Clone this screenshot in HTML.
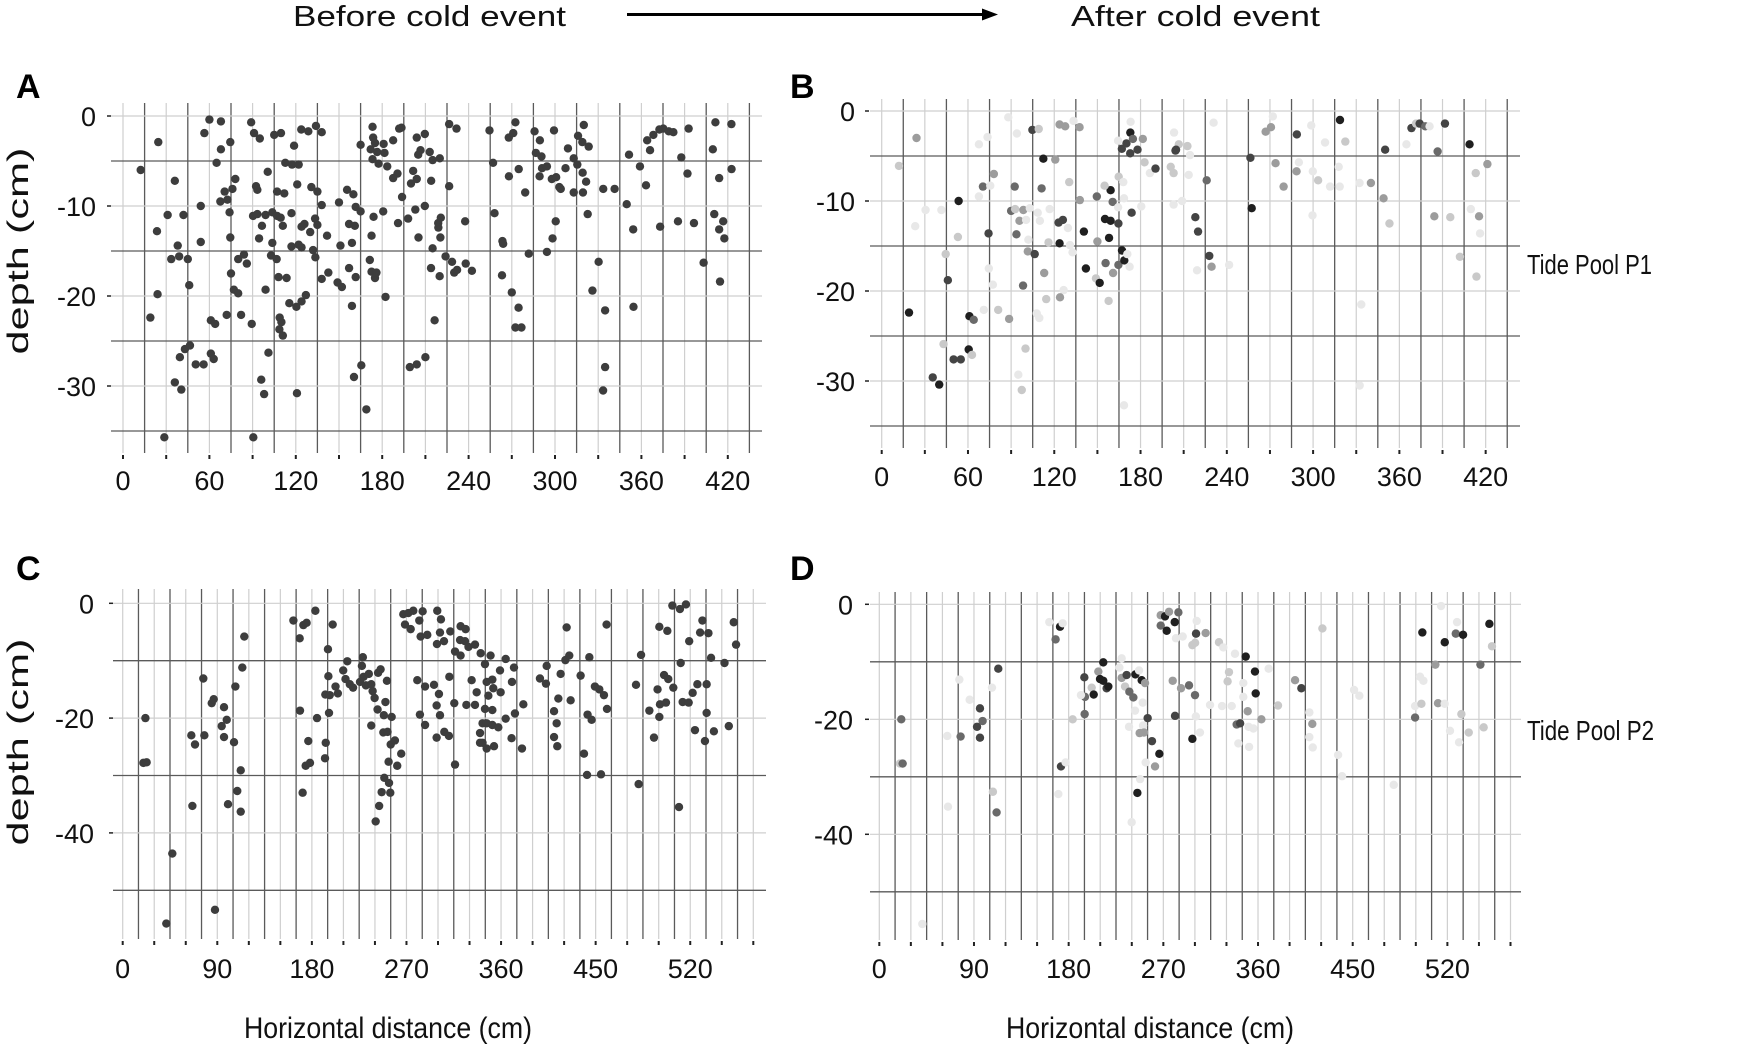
<!DOCTYPE html>
<html>
<head>
<meta charset="utf-8">
<style>
html,body{margin:0;padding:0;background:#fff;}
svg{display:block;font-family:"Liberation Sans",sans-serif;}
</style>
</head>
<body>
<svg id="fig" width="1750" height="1053" viewBox="0 0 1750 1053" xmlns="http://www.w3.org/2000/svg">
<rect width="1750" height="1053" fill="#fff"/>
<text x="293" y="26" font-size="29" textLength="273" lengthAdjust="spacingAndGlyphs" fill="#111">Before cold event</text>
<text x="1071" y="26" font-size="29" textLength="249" lengthAdjust="spacingAndGlyphs" fill="#111">After cold event</text>
<g>
<line x1="627" y1="14.5" x2="984" y2="14.5" stroke="#000" stroke-width="3"/>
<polygon points="982,8.5 998,14.5 982,20.5" fill="#000"/>
</g>
<text x="1527" y="274" font-size="28" textLength="125" lengthAdjust="spacingAndGlyphs" fill="#111">Tide Pool P1</text>
<text x="1527" y="740" font-size="28" textLength="127" lengthAdjust="spacingAndGlyphs" fill="#111">Tide Pool P2</text>
</svg>
<script>
// ---- Panel A data (before, pool P1) ----
const xA = [12.3,24.5,36,23.6,31,42,54,54,33.5,38,39,45,46,24,19,36,40.5,39.5,43,46.5,50.5,56,61,63,28.7,56.5,60,68,65,68,74.5,67.6,70.6,76,72.5,74,78,74.5,75,77,80,80,84,86,72,82,61,64,89.4,101,96,98,90.5,89,91,95,100.5,92.4,93.3,90.3,93.3,96.5,94.5,99,103.7,107,109.5,111,103.7,102.8,106.7,99,108,113.6,107,112,117,105,109.7,118.8,112.7,117.4,122,121,123.8,128.7,134,138,117,122,124,124,126,130,132,133.6,135,133.4,135,138,141.7,130.8,138,142.6,115.5,120.4,124,127,108.8,110,108.6,111,120.8,150,151,149,152,155.6,160,157,161,161.6,165,159,157,159,161.6,160.4,165.5,169,165,
173.3,173.7,175,181,172,176.5,181.6,173.3,177.5,183.5,187.6,191.8,193.4,204,209.6,206.6,205,213,215,220,226.5,231.6,201.5,204,200,190.6,187.6,193.8,214,226.5,174,180.7,191,198,203,209.6,172.6,205.2,218.9,220.7,219,220.4,237.6,215,213.9,219.9,224,228.5,230,232,238,242.3,171.4,172.6,176,175,182.3,216.4,199.2,204,210,254.5,257,267.9,271,272.5,274.8,268,279.3,258,263.5,264,281.8,263.2,270,274.7,272.5,276.7,285.8,289.5,299.3,286.7,290.6,291,294.4,289.3,297.8,300.8,303,304,309,307.3,313,316,320,319,323.4,315.5,319.2,321.6,313,319.4,322.7,300.5,298.3,294.4,330.3,326,334.8,334.8,333.4,333.5,341.4,349.8,351.4,359,363.2,354.3,354.5,364,366,368.3,372.5,375.2,379,382.2,392.8,387.7,392,373,385.4,396.5,403.2,409.6,411.4,414,422.5,422.6,410.6,416.8,414,417.6,414.6];
const dA = [-6.0,-2.9,-7.2,-12.8,-11,-11,-10,-14,-15.9,-14.4,-15.6,-15.9,-18.8,-19.8,-22.4,-29.6,-30.4,-26.8,-25.9,-25.5,-27.6,-27.6,-26.4,-27,-35.7,-1.9,-0.4,-0.6,-5.2,-3.7,-2.9,-9.5,-8.4,-8.1,-9.3,-10.7,-7,-13.5,-17.5,-19.3,-19.7,-15.9,-15.4,-16.4,-22.1,-22.1,-22.7,-23.1,-23.1,-26.3,-29.3,-30.9,-35.7,-0.7,-1.9,-2.5,-6.2,-7.8,-8.2,-11.1,-10.9,-12.2,-13.6,-11,-10.7,-11.1,-11.3,-12.2,-14.1,-15.5,-15.9,-19.3,-17.9,-18,-8.4,-8.6,-10.8,-2.1,-1.9,-3.3,-5.2,-5.4,-5.4,-7.6,-1.5,-1.7,-1.1,-1.8,-14.5,-14.3,-14.6,-12.3,-12,-12.9,-14.9,-15.7,-12.1,-11.4,-8.4,-9.9,-13.3,-7.9,-18.1,-17.4,-20.8,-21.2,-20.6,-19.9,-22.4,-22.9,-23.7,-24.4,-30.8,-9.6,-14.4,-18.5,-19,-8.2,-8.7,-12,-12.2,-10.1,-10.6,-14.1,-16.9,-21.1,-17.9,-29,-27.7,-32.6,-3.2,
-1.2,-2.4,-3,-3.1,-3.7,-4,-4.1,-4.8,-5.3,-5.6,-2.7,-1.4,-1.3,-2.4,-2,-3.8,-4.3,-4,-4.9,-4.7,-0.9,-1.4,-6.1,-7,-7.5,-6.4,-6.9,-9,-7.2,-7.8,-11.2,-10.6,-11.9,-11.4,-10.4,-10,-13.3,-13.5,-11.9,-11.3,-12.4,-13.5,-11.7,-14.7,-16.9,-17.8,-15.6,-16.2,-17.4,-17.1,-16.4,-17.2,-16,-17.3,-17.4,-18,-20.1,-22.7,-27.9,-27.6,-26.8,-1.6,-5.2,-2.4,-1.9,-0.7,-5.9,-6.7,-8.5,-10.8,-13.9,-14.2,-15.3,-17.7,-19.6,-21.3,-23.5,-23.5,-1.7,-2.7,-1.6,-4.1,-4.5,-5.8,-5.6,-6.7,-7,-6.8,-7.9,-8.1,-3.6,-5.8,-4.7,-2.2,-1,-2.9,-3.4,-5.4,-6.3,-7.3,-8.5,-8.5,-10.9,-11.7,-13.6,-15.1,-16.2,-19.4,-21.6,-27.9,-30.5,-8.1,-8.1,-9.8,-4.3,-5.6,-7.7,-12.6,-21.2,-2.7,-3.8,-2.1,-1.5,-1.4,-1.7,-1.8,-1.4,-4.6,-6.4,-12.3,-11.7,-11.9,-16.3,-3.7,-0.7,-6.9,-0.9,-5.9,-10.9,-11.7,-12.6,-13.6,-18.4];

// ---- Panel B data (after, pool P1) ----
const xB = [12,24.2,23.3,30.5,41.5,53.5,53,44.5,46,19,43,35.5,40,50,55,60.5,62.8,61,64,71,81,88.6,100,95,97.4,67.6,73.6,70.4,75.5,78,67.6,74.3,74.5,77.3,88,94,90,92.8,95.8,93.7,92.5,98.5,100.4,103,102,101.6,106.4,98.3,104.8,109.2,112.4,111.2,108.5,110,116.8,116,113,114.4,107.8,109.6,123.7,127.6,133.4,137.6,120.7,130.4,137.8,123,126,129.5,123.7,130.9,132.7,126.5,124,140.6,142,149.6,150,149,151.6,155.7,157.8,155.3,159.2,158.1,159.2,160.6,155,160.9,164.6,164.6,164.4,164.8,164.4,167,170.2,172.8,172.9,174.7,173.1,177.9,181.6,182.8,186.5,190.4,167.1,168.7,170.8,172.4,173.8,168,168.5,180.5,168.5,201,203,203.3,204.3,203,
206.6,204.7,212.6,214.4,213.5,208.9,230.8,218.1,220,226,227.8,229.4,241.6,219.3,256.4,257.3,267,270.7,272,273.9,279.5,288.7,290.1,288.5,298.7,299.8,303.5,308.3,311.8,299.6,318.7,322.4,317.8,318.5,332.3,340.2,333.5,332.4,350.1,349,353.1,364.9,368.4,371.6,374.1,378,381,391.7,386.6,384.3,395.4,402.1,408.8,413.1,421.2,409.7,415.4,416.1,413.6];
const dB = [-6.1,-3,-12.8,-11,-11,-10,-14,-15.9,-18.8,-22.4,-25.9,-29.6,-30.4,-27.6,-27.6,-26.5,-27.1,-22.8,-23.2,-22.1,-22.1,-23.1,-26.4,-29.3,-31,-3.7,-2.9,-8.4,-8.3,-7,-9.5,-13.6,-17.5,-19.3,-0.7,-2.5,-11.1,-10.9,-12.2,-13.7,-8.4,-11,-12.1,-10.8,-14.3,-15.6,-15.9,-19.4,-2.1,-2,-5.3,-8.6,-11.3,-12.2,-10.9,-14.6,-18,-20.9,-22.5,-23,-1.5,-1.7,-1.1,-1.8,-5.4,-7.9,-9.9,-12.4,-12.1,-13,-14.7,-14.9,-15.7,-19.9,-20.7,-13.4,-17.5,-9.5,-14.5,-18.6,-19.1,-16.9,-21.1,-12,-12.2,-14.1,-8.8,-10.1,-8.3,-18,-17.1,-12.5,-10.7,-7.3,-3.3,-4.2,-3.6,-4.7,-2.4,-3.1,-1.2,-4.3,-3.1,-5.7,-6.9,-6.4,-15.5,-16.6,-15.9,-17.3,-11.3,-7.9,-9.7,-10.6,-32.7,-6.2,-6.9,-2.4,-4.4,-10.4,
-3.7,-4.3,-3.9,-4.9,-7.1,-10,-1.3,-11.8,-13.4,-7.7,-16.1,-17.3,-17.1,-17.7,-5.2,-10.8,-2.3,-1.8,-0.6,-5.8,-8.4,-2.6,-5.7,-6.7,-1.6,-6.7,-7.7,-3.5,-8.4,-11.6,-1,-3.4,-6.2,-8.4,-8,-8,-21.5,-30.5,-4.3,-9.7,-12.5,-3.7,-1.9,-1.4,-1.4,-1.7,-1.7,-1.4,-4.5,-11.7,-11.8,-16.2,-3.7,-6.9,-5.9,-10.9,-11.7,-13.6,-18.4];
const shadeB = [2,3,1,1,1,6,2,2,5,6,2,5,6,5,5,6,2,6,4,1,2,3,2,1,2,1,1,4,1,3,1,5,1,1,1,1,4,2,3,4,4,3,1,1,1,3,5,4,5,2,6,4,1,1,1,2,3,2,1,1,3,3,1,3,3,2,3,5,5,1,6,1,1,1,3,6,6,4,3,2,6,4,2,6,6,6,6,4,2,3,4,5,1,2,1,5,5,5,6,4,1,5,3,2,1,5,6,6,1,1,5,1,1,1,1,2,2,1,5,1,
2,5,2,1,1,1,1,5,5,4,5,3,1,1,5,6,3,3,1,3,3,5,1,3,1,1,2,1,1,1,6,2,1,1,1,3,1,1,5,3,2,1,5,2,5,4,1,5,4,3,2,2,6,2,3,1,3,1,2];

// ---- Panel C data (before, pool P2) ----
const xC = [21.6,19.7,22.8,47.2,41.5,87.8,65.3,68.8,66.3,77.7,76.7,84.7,86.6,96.4,99,94.2,96.4,100.2,105.9,107.2,113.8,115.7,112.3,109,112.3,162.4,168.4,171.9,175,183.3,199.8,168.7,171.2,174.1,178.2,176.6,184.9,195.3,195.7,192.8,197,196.3,193.2,192.5,202.5,204.7,209.8,213.7,212,216.1,219.2,225.8,228.5,227.6,229.2,234.2,231.4,236.5,237.8,239.7,243,245.4,251.4,250,242.5,248.5,255.9,236.5,248,252,255,259,253,265,261.2,248.9,253.4,246.4,254.6,244,240.7,267,268.6,274,271.8,276.5,285.4,282.2,299.3,302.8,301.9,299,305.7,283.5,289.8,311.7,321.5,326.3,316.2,321.5,321,325.7,329,335.2,280.3,287.7,296.2,310.8,300.9,298.7,301.9,282.8,287.7,298.7,306,310.4,316.2,315.5,327,335.2,332,336.8,340,340,
340.6,344.7,350,346.3,351.7,352.6,347.9,359.6,359,364.4,372.3,370.4,381.2,373.2,364.4,344.7,351.7,342.4,346.3,351.7,357.4,342.4,346.3,353.3,370,379.9,397,403.4,402.7,416.7,414.5,410.4,412.9,410.4,413.5,422.4,421.2,424.9,426.2,435.7,444,449.3,453.5,457.9,460.8,442.3,446.2,438.9,441.8,455.1,460.4,488.4,493.2,501.1,505.5,490.9,508.9,511.2,516.9,510.6,515.1,519.1,523.9,510.6,518.2,523,530.2,535.9,539,530.9,532.8,538.5,542.3,546.8,555.6,544.5,554,555.6,562.5,549.4,551.6,557.3,559.8,572.6,576.7,581.4,583.6,529.3];
const dC = [-20,-27.8,-27.7,-43.6,-55.8,-53.4,-23,-24.6,-35.3,-23,-13.1,-17.4,-16.7,-18.1,-20.3,-21.4,-23.3,-35,-24.2,-14.5,-11.2,-5.8,-29.1,-32.7,-36.3,-3,-6.1,-3.8,-3.4,-1.3,-3.7,-18.7,-33,-28.3,-27.8,-24,-20,-8,-12.7,-15.9,-16,-19.1,-24.3,-27,-14.5,-15.7,-11.7,-10.1,-13.2,-14.1,-14.7,-13.7,-9.4,-10.9,-12.8,-12.3,-14.3,-14.1,-15.3,-16.5,-12.1,-11.5,-13.5,-17.2,-18.5,-19.5,-19.8,-21.3,-22.5,-22.4,-24.6,-23.9,-27.6,-26.2,-28.3,-30.4,-31.3,-32.9,-33,-35.3,-38,-1.9,-3.7,-4.5,-1.7,-1.3,-1.4,-3,-1.3,-2.8,-5.1,-7.1,-6.6,-5.8,-5.5,-4.9,-4,-4.5,-8.4,-9.1,-6.4,-6.6,-7.6,-7.2,-13.4,-14.5,-14.2,-12.8,-15.8,-17.8,-19.5,-19.4,-21.2,-23.4,-22.4,-23.1,-28.1,-17.4,-17.7,-17.7,-13.4,-15.5,-22.6,-24.3,
-8.7,-10.6,-9.1,-13.7,-13.3,-14.8,-16.1,-15.5,-11.7,-9.7,-11.2,-13.7,-17.6,-19.2,-20.1,-18.4,-18.6,-20.9,-20.9,-21.2,-21.6,-24.3,-25.3,-24.9,-23.5,-25.3,-13.1,-10.9,-14,-12.3,-16.6,-18.8,-20.9,-23.3,-24.9,-4.2,-9.9,-9.1,-16.9,-12.6,-9.4,-14.5,-15,-16,-18.4,-19.4,-20.3,-26.2,-29.9,-29.8,-3.7,-14.2,-9,-18.7,-23.4,-31.5,-15,-17.6,-17.3,-19.8,-12.5,-13.2,-14.7,-4.1,-4.8,-0.4,-1,-0.2,-6.6,-10.4,-17.2,-17.3,-15.6,-14.1,-14.1,-22.1,-24,-19.1,-22.3,-5.1,-3,-5.2,-9.5,-10.4,-21.4,-3.3,-7.2,-35.5];

// ---- Panel D data (after, pool P2) ----
const xD = [20.9,19.6,22.2,40.9,64.6,77.3,65.3,76.1,85.9,95.7,98.2,92.9,95.7,107.1,113.1,108,111.5,161.6,167.6,171.8,174.3,172.7,177.1,170.2,183.8,194.9,195.5,195.2,191.7,201.9,203.8,208.2,212.9,209.8,212.9,216.1,217.7,230.4,228.2,230.4,233.6,235.1,237.7,241.5,243.4,246.9,249.4,252.6,243.1,250.4,255.1,237.4,250.7,247.5,251.6,259.2,266.2,253.2,262.1,247.9,245.3,239.9,267.5,271.6,275.4,284.3,280.8,267.5,273.2,282,288.4,301.7,301.1,297.6,300.2,310.2,322.9,327,338.1,332.4,331.1,278.9,286.8,294.4,300.1,314.4,325.8,335,281.1,300.9,304.8,297.6,339.7,341.3,
348.3,357.1,357.8,346,346,350.2,363.2,343,351,355.6,351.5,370.1,379,395.2,401.2,408.8,411.6,408.8,412,421.2,451.3,456.3,436.1,439.9,489,509.3,509.3,515.3,514,517.2,516.2,531.1,537.4,528.6,534,537.5,548,549.2,554.9,542.5,553.3,551.1,560.3,571.4,574.5,579.9,582.4];
const dD = [-20,-27.7,-27.7,-55.6,-22.9,-23,-35.2,-13.1,-16.6,-18.1,-20.3,-21.3,-23.2,-14.5,-11.2,-32.6,-36.2,-3.1,-6.1,-3.9,-3.3,-28.2,-27.5,-33,-20,-12.7,-16.1,-19.1,-15.8,-14.5,-15.7,-11.7,-10.1,-13,-13.3,-14.6,-14.3,-9.4,-11,-12.8,-14.3,-12.3,-15.2,-16.2,-12.2,-11.5,-13.2,-13.7,-18.5,-17.1,-19.8,-21.3,-21.1,-22.4,-22.3,-23.8,-26,-27.5,-28.2,-30.4,-32.8,-37.9,-1.9,-2.1,-1.3,-1.4,-3.1,-3.7,-4.6,-5.9,-5.6,-2.9,-5.1,-7.1,-6.7,-5,-6.6,-7.5,-8.6,-11.8,-13.4,-13.3,-14.6,-14.1,-15.8,-17.5,-17.7,-17.7,-19.4,-19.5,-22.3,-23.4,-20.9,-24.2,
-9.1,-11.7,-15.5,-13.7,-16.1,-18.6,-20,-20.7,-21.3,-21.6,-24.8,-11.2,-17.6,-13.2,-14.6,-18.8,-20.8,-23.1,-24.9,-4.2,-14.9,-15.9,-26.2,-29.9,-31.4,-19.7,-17.7,-17.3,-12.6,-13.3,-4.9,-17.2,-17.3,-10.5,-0.3,-6.6,-5.1,-3.1,-5.3,-22,-19.1,-24,-22.3,-10.5,-21.4,-3.4,-7.3];
const shadeD = [4,2,4,1,1,4,1,1,1,5,4,5,5,1,5,2,4,1,4,6,1,5,1,1,2,5,4,4,1,2,6,3,6,6,6,5,6,1,1,3,2,5,4,4,6,1,6,3,1,1,5,1,1,3,3,5,6,1,3,1,6,1,3,6,3,4,6,4,6,1,1,1,5,2,2,3,2,1,1,2,2,3,3,4,4,1,1,1,5,1,1,6,4,1,
6,6,6,1,1,3,3,5,1,1,1,1,2,3,5,1,3,1,1,2,1,1,1,1,1,4,1,2,1,1,6,3,1,3,1,6,4,1,6,1,2,1,2,4,2,6,2];

// axis tick values
const xTicksP1 = [0,60,120,180,240,300,360,420];
const yTicksP1 = [0,-10,-20,-30];
const xTickValsP2 = [0,90,180,270,360,450,540];
const xTickTextP2 = ["0","90","180","270","360","450","520"];
const yTicksP2 = [0,-20,-40];

const shadeColors = ["#3d3d3d","#e8e8e8","#c9c9c9","#9c9c9c","#6a6a6a","#444444","#1f1f1f"];

const NS = "http://www.w3.org/2000/svg";
const svg = document.getElementById("fig");
function mk(tag, attrs, parent){
  const e = document.createElementNS(NS, tag);
  for (const k in attrs) e.setAttribute(k, attrs[k]);
  (parent||svg).appendChild(e);
  return e;
}

function panel(cfg){
  const g = mk("g", {});
  
  
  const X = v => cfg.x0 + v*cfg.sx;
  const Y = v => cfg.y0 - v*cfg.sy;
  for (let v = 0; v <= cfg.xMax; v += 15){
    const dark = (v % 30) !== 0;
    const l = mk("line", {x1:X(v), x2:X(v), y1:cfg.vTop, y2:cfg.vBot, stroke: dark?"#5a5a5a":"#cfcfcf", "stroke-width": dark?1.3:1.2}, g);
    
    
  }
  for (let v = 0; v >= cfg.yMin; v -= cfg.hStep){
    const dark = (Math.round(Math.abs(v)/cfg.hStep) % 2) === 1;
    const l = mk("line", {x1:cfg.hL, x2:cfg.hR, y1:Y(v), y2:Y(v), stroke: dark?"#5a5a5a":"#cfcfcf", "stroke-width": dark?1.3:1.2}, g);
    
    
  }
  for (let v = 0; v <= cfg.xTickMax; v += 30){
    const t = mk("line", {x1:X(v), x2:X(v), y1:cfg.vBot+2, y2:cfg.vBot+6, stroke:"#222", "stroke-width":2}, g);
    
    
  }
  cfg.xLabVals.forEach((v,i)=>{
    const t = mk("text", {x:X(v), y:cfg.xLabY, "font-size":27, "text-anchor":"middle", fill:"#111"}, g);
    t.textContent = cfg.xLabText[i];
    
    
  });
  cfg.yLabVals.forEach(v=>{
    const tk = mk("line", {x1:cfg.yTickX, x2:cfg.yTickX+4, y1:Y(v), y2:Y(v), stroke:"#222", "stroke-width":1.5}, g);
    
    
    const t = mk("text", {x:cfg.yLabX, y:Y(v)+10, "font-size":27, "text-anchor":"end", fill:"#111"}, g);
    t.textContent = String(v);
    
    
  });
  const n = Math.min(cfg.xs.length, cfg.ds.length);
  for (let i = 0; i < n; i++){
    const s = cfg.shade ? (cfg.shade[i] || 1) : 0;
    const c = mk("circle", {cx:X(cfg.xs[i]), cy:Y(cfg.ds[i]), r:4.2, fill: shadeColors[s]}, g);
    
    
  }
  const L = mk("text", {x:cfg.letterX, y:cfg.letterY, "font-size":34, "font-weight":"bold", fill:"#000"}, g);
  L.textContent = cfg.id.toUpperCase();
  
  
}

panel({id:"a", x0:123, sx:1.44, y0:116, sy:9.0, vTop:103, vBot:453, hL:111, hR:762, xMax:435, yMin:-35, hStep:5, xTickMax:420,
  xLabVals:xTicksP1, xLabText:xTicksP1.map(String), xLabY:490, yLabVals:yTicksP1, yLabX:96, yTickX:107,
  xs:xA, ds:dA, letterX:16, letterY:98});
panel({id:"b", x0:881.7, sx:1.438, y0:111, sy:9.0, vTop:99, vBot:448, hL:870, hR:1520, xMax:435, yMin:-35, hStep:5, xTickMax:420,
  xLabVals:xTicksP1, xLabText:xTicksP1.map(String), xLabY:486, yLabVals:yTicksP1, yLabX:855, yTickX:865,
  xs:xB, ds:dB, shade:shadeB, letterX:790, letterY:98});
panel({id:"c", x0:122.7, sx:1.051, y0:603.3, sy:5.74, vTop:589, vBot:939, hL:113, hR:766, xMax:600, yMin:-50, hStep:10, xTickMax:600,
  xLabVals:xTickValsP2, xLabText:xTickTextP2, xLabY:978, yLabVals:yTicksP2, yLabX:94, yTickX:109,
  xs:xC, ds:dC, letterX:16, letterY:580});
panel({id:"d", x0:879.3, sx:1.052, y0:604.3, sy:5.75, vTop:592, vBot:940, hL:870, hR:1521, xMax:600, yMin:-50, hStep:10, xTickMax:600,
  xLabVals:xTickValsP2, xLabText:xTickTextP2, xLabY:978, yLabVals:yTicksP2, yLabX:853, yTickX:865,
  xs:xD, ds:dD, shade:shadeD, letterX:790, letterY:580});

function rotTitle(name, cx, cy, len){
  const t = mk("text", {x:0, y:0, "font-size":30, "text-anchor":"middle", fill:"#111",
    transform:"translate("+cx+","+cy+") rotate(-90)", textLength:len, lengthAdjust:"spacingAndGlyphs"});
  t.textContent = "depth (cm)";
  
  
}
rotTitle('y-axis-title-p1', 28, 251, 207);
rotTitle('y-axis-title-p2', 28, 742, 207);
function xTitle(name, cx){
  const t = mk("text", {x:cx, y:1038, "font-size":30, "text-anchor":"middle", fill:"#111", textLength:288, lengthAdjust:"spacingAndGlyphs"});
  t.textContent = "Horizontal distance (cm)";
  
  
}
xTitle('x-axis-title-before', 388);
xTitle('x-axis-title-after', 1150);
</script>
</body>
</html>
